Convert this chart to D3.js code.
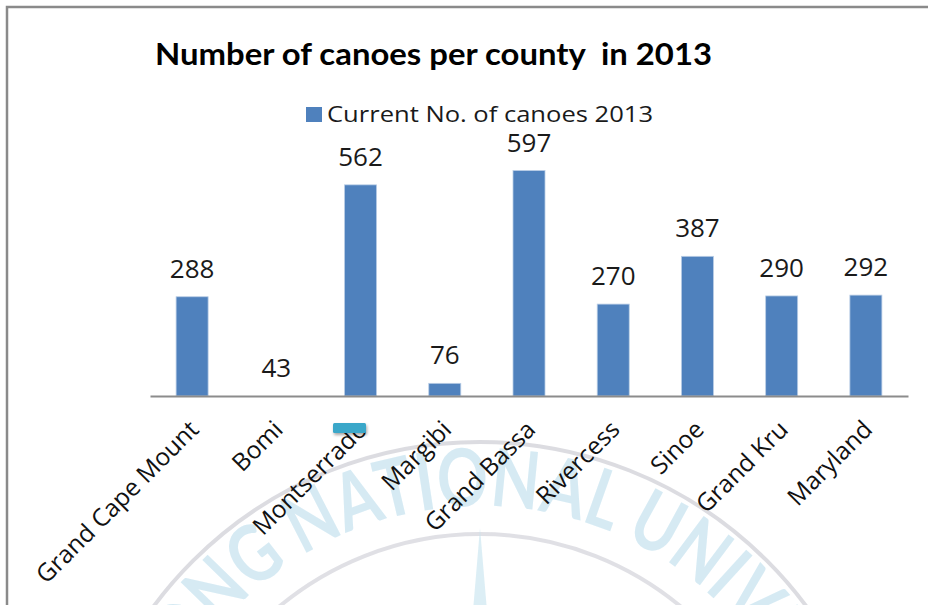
<!DOCTYPE html>
<html>
<head>
<meta charset="utf-8">
<script src="https://cdn.jsdelivr.net/npm/d3@7"></script>
<style>
  html, body { margin: 0; padding: 0; background: #fff; }
  svg { display: block; }
</style>
</head>
<body>
<svg id="chart" width="928" height="605"></svg>
<script>
// Canoe counts by county, 2013
const counties = ["Grand Cape Mount", "Bomi", "Montserrado", "Margibi", "Grand Bassa",
                  "Rivercess", "Sinoe", "Grand Kru", "Maryland"];
const canoes2013 = [288, 43, 562, 76, 597, 270, 387, 290, 292];
const seriesName = "Current No. of canoes 2013";
const chartTitle = "Number of canoes per county  in 2013";
// value axis floor and ceiling (hidden axis)
const valueDomain = [45, 645];

const svg = d3.select("#chart");
const W = 928, H = 605;
const plot = { left: 150, right: 908, top: 151, bottom: 396 };
const barColor = "#4f81bd";
const labelFont = "'Open Sans', 'DejaVu Sans', sans-serif";

// faint background seal
const seal = svg.append("g").attr("class", "seal");
const cx = 480, cy = 848, R = 406;
seal.append("circle").attr("cx", cx).attr("cy", cy).attr("r", R)
  .attr("fill", "none").attr("stroke", "#d3d3da").attr("stroke-width", 4).attr("opacity", 0.8);
seal.append("circle").attr("cx", cx).attr("cy", cy).attr("r", R - 92)
  .attr("fill", "none").attr("stroke", "#d3d3da").attr("stroke-width", 4).attr("opacity", 0.7);
const arcR = R - 64;
seal.append("path").attr("id", "sealArc")
  .attr("d", `M ${cx - arcR} ${cy} A ${arcR} ${arcR} 0 0 1 ${cx + arcR} ${cy}`)
  .attr("fill", "none");
seal.append("text")
  .attr("font-family", "Lato, 'Open Sans', sans-serif").attr("font-weight", 700)
  .attr("font-size", 80).attr("fill", "#c9e4f0").attr("opacity", 0.75)
  .append("textPath").attr("href", "#sealArc").attr("startOffset", "50%")
  .attr("text-anchor", "middle")
  .attr("textLength", 1030).attr("lengthAdjust", "spacingAndGlyphs")
  .text("PUKYONG NATIONAL UNIVERSITY");
seal.append("path")
  .attr("d", `M ${cx} ${cy - 320} L ${cx + 22} ${cy - 60} L ${cx} ${cy} L ${cx - 22} ${cy - 60} Z`)
  .attr("fill", "#c4e2ef").attr("opacity", 0.6);
seal.append("path")
  .attr("d", `M ${cx - 120} ${cy - 230} L ${cx - 20} ${cy - 40} L ${cx - 60} ${cy - 20} Z`)
  .attr("fill", "#d6d6dc").attr("opacity", 0.6);

// outer frame (top and left edges)
svg.append("path")
  .attr("d", `M 7 ${H} L 7 7 L ${W} 7`)
  .attr("fill", "none").attr("stroke", "#8a8a8a").attr("stroke-width", 2.5);

// title
svg.append("text")
  .attr("x", 155).attr("y", 65)
  .attr("font-family", "Lato, 'Open Sans', sans-serif").attr("font-weight", 700)
  .attr("font-size", 30).attr("fill", "#000")
  .attr("textLength", 557).attr("lengthAdjust", "spacingAndGlyphs")
  .style("white-space", "pre")
  .text(chartTitle);

// legend
const legend = svg.append("g").attr("transform", "translate(306,107)");
legend.append("rect").attr("width", 16).attr("height", 15).attr("fill", barColor);
legend.append("text").attr("x", 21).attr("y", 15)
  .attr("font-family", labelFont).attr("font-size", 21).attr("fill", "#1a1a1a")
  .attr("textLength", 326).attr("lengthAdjust", "spacingAndGlyphs")
  .text(seriesName);

// scales
const x = d3.scaleBand().domain(counties).range([plot.left, plot.right]).paddingInner(0).paddingOuter(0);
const y = d3.scaleLinear().domain(valueDomain).range([plot.bottom, plot.bottom - (valueDomain[1] - valueDomain[0]) * 0.4084]);
const barW = x.bandwidth() * 0.38;
const barTop = v => Math.min(y(v), plot.bottom);

// bars
svg.append("g").selectAll("rect").data(counties).join("rect")
  .attr("x", (d) => x(d) + (x.bandwidth() - barW) / 2)
  .attr("y", (d, i) => barTop(canoes2013[i]))
  .attr("width", barW)
  .attr("height", (d, i) => plot.bottom - barTop(canoes2013[i]))
  .attr("fill", barColor)
  .attr("stroke", "#b9cde5").attr("stroke-width", 0.8);

// value labels
svg.append("g").selectAll("text").data(counties).join("text")
  .attr("x", d => x(d) + x.bandwidth() / 2)
  .attr("y", (d, i) => barTop(canoes2013[i]) - 19)
  .attr("text-anchor", "middle")
  .attr("font-family", labelFont).attr("font-size", 26).attr("fill", "#1a1a1a")
  .text((d, i) => canoes2013[i]);

// category axis
const xAxis = svg.append("g").attr("transform", `translate(0,${plot.bottom})`)
  .call(d3.axisBottom(x).tickSize(0).tickPadding(0));
xAxis.select(".domain").attr("stroke", "#8c8c8c").attr("stroke-width", 2);
xAxis.selectAll(".tick text")
  .attr("font-family", labelFont).attr("font-size", 24.5).attr("fill", "#111")
  .attr("text-anchor", "end")
  .attr("dy", 0)
  .attr("transform", "translate(8,35) rotate(-45)");

// small marker below the Montserrado label
svg.append("rect").attr("x", 333).attr("y", 423).attr("width", 33).attr("height", 10)
  .attr("rx", 1.5).attr("fill", "#3aa7c9")
  .style("filter", "drop-shadow(1px 2px 1.5px rgba(0,0,0,0.35))");
</script>
</body>
</html>
